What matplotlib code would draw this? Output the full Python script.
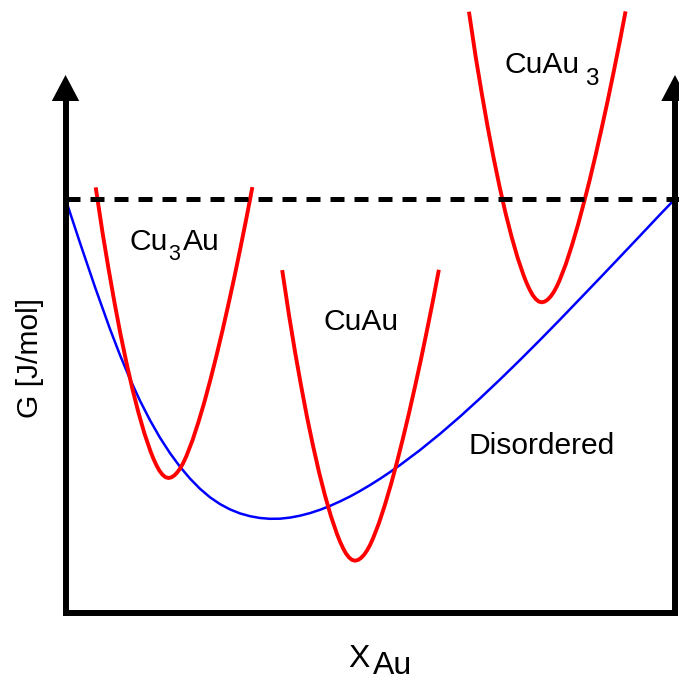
import matplotlib
matplotlib.use("Agg")
import matplotlib.pyplot as plt

plt.rcParams['font.family'] = ['Liberation Sans', 'DejaVu Sans']

# composition (mole fraction Au) and Gibbs energy (arbitrary J/mol, 0 = dashed reference)
x_dis = [0.0, 0.0238, 0.0484, 0.0730, 0.0894, 0.1058, 0.1222, 0.1386, 0.1550, 0.1715,
         0.1879, 0.2043, 0.2207, 0.2371, 0.2535, 0.2699, 0.2863, 0.3027, 0.3191, 0.3355,
         0.3519, 0.3683, 0.3847, 0.4012, 0.4176, 0.4340, 0.4504, 0.4668, 0.4832, 0.4996,
         0.5160, 0.5324, 0.5488, 0.5816, 0.6144, 0.6473, 0.6801, 0.7129, 0.7457, 0.7785,
         0.8113, 0.8441, 0.8770, 0.9098, 0.9426, 0.9754, 1.0]
g_dis = [0, -439, -881, -1301, -1561, -1800, -2017, -2212, -2387, -2542,
         -2678, -2796, -2898, -2983, -3051, -3104, -3144, -3172, -3190, -3198,
         -3197, -3186, -3167, -3141, -3108, -3069, -3024, -2975, -2920, -2861,
         -2798, -2731, -2661, -2511, -2349, -2176, -1994, -1805, -1610, -1410,
         -1206, -998, -789, -579, -368, -156, 0]

x_cu3au = [0.0500, 0.0607, 0.0706, 0.0804, 0.0902, 0.1001, 0.1099, 0.1198, 0.1296, 0.1395,
           0.1444, 0.1493, 0.1542, 0.1591, 0.1641, 0.1690, 0.1739, 0.1788, 0.1838, 0.1887,
           0.1936, 0.1985, 0.2084, 0.2182, 0.2281, 0.2379, 0.2477, 0.2576, 0.2674, 0.2773,
           0.2871, 0.2970, 0.3060]
g_cu3au = [97, -335, -698, -1037, -1352, -1640, -1903, -2139, -2347, -2524,
           -2599, -2664, -2718, -2757, -2782, -2790, -2783, -2763, -2731, -2688,
           -2634, -2568, -2412, -2229, -2025, -1803, -1566, -1314, -1050, -774,
           -486, -186, 100]

x_cuau = [0.3560, 0.3667, 0.3765, 0.3864, 0.3962, 0.4061, 0.4159, 0.4258, 0.4356, 0.4455,
          0.4504, 0.4553, 0.4602, 0.4651, 0.4701, 0.4750, 0.4799, 0.4848, 0.4898, 0.4947,
          0.4996, 0.5045, 0.5144, 0.5242, 0.5341, 0.5439, 0.5537, 0.5636, 0.5734, 0.5833,
          0.5931, 0.6030, 0.6120]
g_cuau = [-730, -1162, -1525, -1864, -2179, -2467, -2730, -2966, -3174, -3351,
          -3426, -3491, -3545, -3584, -3609, -3617, -3610, -3590, -3558, -3515,
          -3461, -3395, -3239, -3056, -2852, -2630, -2393, -2141, -1877, -1601,
          -1313, -1013, -727]

x_cuau3 = [0.6624, 0.6730, 0.6829, 0.6927, 0.7026, 0.7124, 0.7222, 0.7321, 0.7419, 0.7518,
           0.7567, 0.7616, 0.7665, 0.7715, 0.7764, 0.7813, 0.7862, 0.7911, 0.7961, 0.8010,
           0.8059, 0.8108, 0.8207, 0.8305, 0.8404, 0.8502, 0.8601, 0.8699, 0.8797, 0.8896,
           0.8994, 0.9093, 0.9183]
g_cuau3 = [1854, 1422, 1059, 720, 405, 117, -146, -382, -590, -767,
           -842, -907, -961, -1000, -1025, -1033, -1026, -1006, -974, -931,
           -877, -811, -655, -472, -268, -46, 191, 443, 707, 983,
           1271, 1571, 1857]

g_bottom = -4140   # level of the horizontal axis
g_top = 1240       # tip of the axis arrows

fig = plt.figure(figsize=(6.79, 6.80), dpi=100)
ax = fig.add_axes([0, 0, 1, 1])
ax.set_xlim(-0.1075, 1.0066)
ax.set_ylim(-4810, 1990)
ax.axis('off')

# --- frame with arrows ---
head_len = 260
head_w = 0.0225
ax.plot([0, 0, 1, 1], [g_top - head_len + 10, g_bottom, g_bottom, g_top - head_len + 10],
        color='black', lw=4.3, solid_joinstyle='miter', solid_capstyle='butt', zorder=5)
for xa in (0, 1):
    ax.fill([xa - head_w, xa + head_w, xa], [g_top - head_len, g_top - head_len, g_top],
            color='black', lw=0, zorder=5)

# reference line
ax.plot([0, 1.0066], [0, 0], color='black', lw=3.6, linestyle=(0, (2.8, 2.0)),
        dash_capstyle='butt', zorder=4)

# --- curves ---
ax.plot(x_dis, g_dis, color='#0000ff', lw=1.8, zorder=2, solid_joinstyle='round')
for xs, gs in ((x_cu3au, g_cu3au), (x_cuau, g_cuau), (x_cuau3, g_cuau3)):
    ax.plot(xs, gs, color='#ff0000', lw=2.8, zorder=3, solid_joinstyle='round')

# --- labels ---
fs = 21.6
ax.text(0.1058, -510, 'Cu', fontsize=fs, ha='left', va='baseline')
ax.text(0.1680, -610, '3', fontsize=15.5, ha='left', va='baseline')
ax.text(0.1930, -510, 'Au', fontsize=fs, ha='left', va='baseline')

ax.text(0.4230, -1310, 'CuAu', fontsize=fs, ha='left', va='baseline')

ax.text(0.7211, 1263, 'CuAu', fontsize=fs, ha='left', va='baseline')
ax.text(0.8530, 1140, '3', fontsize=17.5, ha='left', va='baseline')

ax.text(0.6609, -2550, 'Disordered', fontsize=fs, ha='left', va='baseline')

ax.text(-0.0575, -1590, 'G [J/mol]', fontsize=fs, rotation=90, ha='center', va='center')

ax.text(0.4635, -4680, 'X', fontsize=23, ha='left', va='baseline')
ax.text(0.5045, -4745, 'Au', fontsize=23, ha='left', va='baseline')

fig.savefig('out.png', dpi=100)
